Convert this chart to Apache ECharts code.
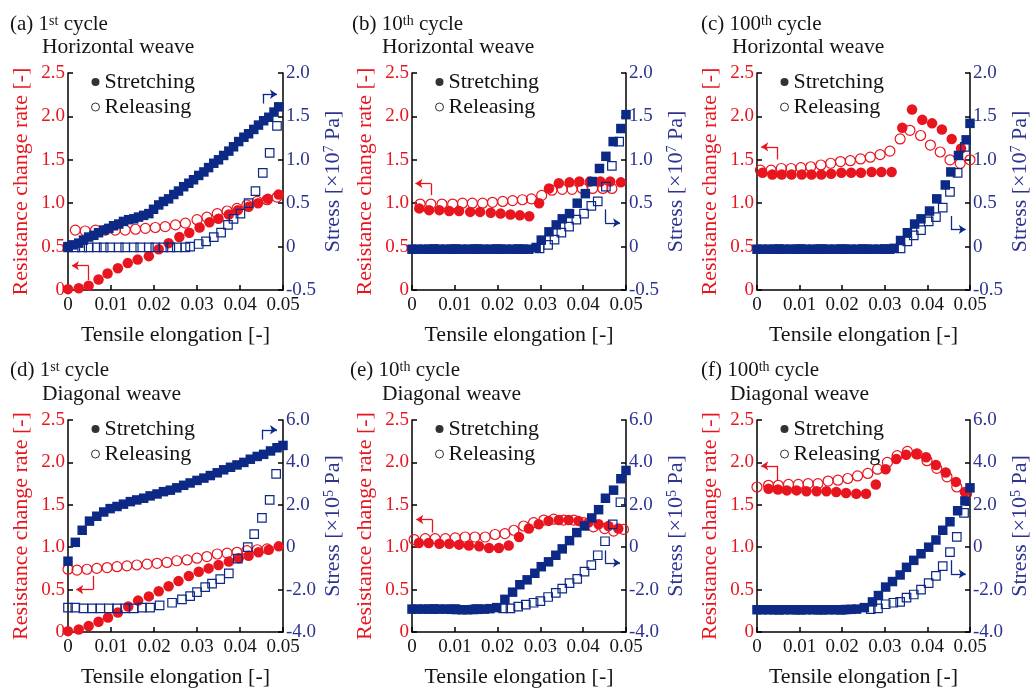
<!DOCTYPE html>
<html>
<head>
<meta charset="utf-8">
<script src="https://cdn.jsdelivr.net/npm/echarts@6/dist/echarts.min.js"></script>
<style>
  html, body { margin: 0; padding: 0; background: #fff; }
  #chart { width: 1032px; height: 689px; }
</style>
</head>
<body>
<div id="chart"></div>
<script>
// ---- data: [tensile elongation, value] ----
// (a) 1st cycle, horizontal weave
const aResStretch = [[0,0.01],[0.0025,0.02],[0.0048,0.05],[0.0071,0.12],[0.0092,0.19],[0.0116,0.25],[0.0139,0.31],[0.0162,0.35],[0.0188,0.39],[0.0211,0.47],[0.0234,0.54],[0.0259,0.61],[0.0282,0.66],[0.0306,0.72],[0.0329,0.78],[0.035,0.82],[0.0374,0.87],[0.0395,0.92],[0.042,0.96],[0.0442,1.0],[0.0465,1.05],[0.049,1.1]];
const aResRelease = [[0.0017,0.69],[0.004,0.68],[0.0064,0.69],[0.0087,0.69],[0.011,0.69],[0.0133,0.69],[0.0157,0.7],[0.018,0.71],[0.0203,0.72],[0.0226,0.73],[0.025,0.75],[0.0273,0.77],[0.03,0.81],[0.0323,0.84],[0.0347,0.88],[0.037,0.91],[0.0393,0.94],[0.0416,0.98],[0.044,1.02],[0.0463,1.04],[0.0486,1.07]];
const aStressStretch = [[0,0],[0.0012,0.02],[0.0025,0.04],[0.0036,0.075],[0.0048,0.11],[0.006,0.13],[0.0071,0.16],[0.0083,0.19],[0.0095,0.21],[0.0106,0.24],[0.0118,0.26],[0.0129,0.29],[0.0141,0.31],[0.0153,0.32],[0.0164,0.34],[0.0176,0.36],[0.0188,0.38],[0.0199,0.43],[0.0211,0.48],[0.0222,0.52],[0.0234,0.55],[0.0246,0.6],[0.0257,0.64],[0.0269,0.69],[0.0281,0.73],[0.0292,0.77],[0.0304,0.82],[0.0316,0.86],[0.0327,0.91],[0.0339,0.96],[0.035,1.0],[0.0362,1.05],[0.0374,1.1],[0.0385,1.15],[0.0397,1.21],[0.0409,1.26],[0.042,1.3],[0.0432,1.35],[0.0443,1.4],[0.0455,1.45],[0.0467,1.49],[0.0479,1.55],[0.049,1.61]];
const aStressRelease = [[0,-0.01],[0.0017,-0.01],[0.0033,-0.01],[0.0048,-0.01],[0.0067,-0.01],[0.0083,-0.01],[0.0098,-0.01],[0.0118,-0.01],[0.0133,-0.01],[0.0153,-0.01],[0.0168,-0.01],[0.0188,-0.01],[0.0203,-0.01],[0.0222,-0.01],[0.0238,-0.01],[0.0253,-0.01],[0.0273,-0.01],[0.0284,0],[0.0304,0.03],[0.0321,0.06],[0.0339,0.11],[0.0356,0.16],[0.0372,0.25],[0.0385,0.32],[0.0401,0.38],[0.042,0.5],[0.0436,0.64],[0.0453,0.85],[0.0469,1.08],[0.0486,1.39]];

// (b) 10th cycle, horizontal weave
const bResStretch = [[0.0017,0.94],[0.004,0.92],[0.0064,0.92],[0.0087,0.91],[0.011,0.91],[0.0136,0.9],[0.0159,0.9],[0.0184,0.89],[0.0207,0.88],[0.023,0.87],[0.0252,0.86],[0.0274,0.85],[0.0297,1.0],[0.032,1.17],[0.0343,1.23],[0.0368,1.24],[0.0391,1.25],[0.0416,1.25],[0.044,1.25],[0.0463,1.25],[0.0488,1.24]];
const bResRelease = [[0.0019,0.99],[0.0044,0.99],[0.007,0.99],[0.0095,0.99],[0.0118,1.0],[0.0141,1.0],[0.0165,1.0],[0.0188,1.01],[0.0212,1.02],[0.0235,1.03],[0.0258,1.04],[0.0279,1.05],[0.0303,1.09],[0.0327,1.15],[0.0351,1.16],[0.0374,1.16],[0.0398,1.17],[0.0422,1.17],[0.0446,1.17],[0.0467,1.17]];
const bStressStretch = [[0,-0.03],[0.0013,-0.03],[0.0026,-0.03],[0.0039,-0.03],[0.0052,-0.03],[0.0065,-0.03],[0.0078,-0.03],[0.0091,-0.03],[0.0104,-0.03],[0.0117,-0.03],[0.013,-0.03],[0.0143,-0.03],[0.0156,-0.03],[0.0169,-0.03],[0.0182,-0.03],[0.0195,-0.03],[0.0208,-0.03],[0.0221,-0.03],[0.0234,-0.03],[0.0247,-0.03],[0.026,-0.03],[0.0273,-0.03],[0.029,-0.01],[0.0302,0.075],[0.032,0.17],[0.0337,0.25],[0.0351,0.32],[0.0368,0.38],[0.0386,0.5],[0.0405,0.61],[0.0421,0.75],[0.0438,0.9],[0.0453,1.04],[0.047,1.21],[0.0488,1.36],[0.05,1.52]];
const bStressRelease = [[0.005,-0.03],[0.01,-0.03],[0.015,-0.03],[0.02,-0.03],[0.025,-0.03],[0.0298,-0.02],[0.0318,0.02],[0.0333,0.08],[0.0349,0.16],[0.0367,0.23],[0.0384,0.31],[0.0402,0.38],[0.0419,0.47],[0.0434,0.52],[0.0453,0.69],[0.0467,0.93],[0.0484,1.21]];

// (c) 100th cycle, horizontal weave
const cResStretch = [[0.0013,1.35],[0.0036,1.33],[0.0058,1.33],[0.0081,1.33],[0.0105,1.33],[0.0128,1.33],[0.0151,1.33],[0.0174,1.34],[0.0198,1.35],[0.0221,1.35],[0.0244,1.35],[0.0269,1.36],[0.0292,1.36],[0.0316,1.36],[0.0341,1.87],[0.0364,2.08],[0.0388,1.96],[0.0411,1.92],[0.0434,1.85],[0.0457,1.74],[0.0479,1.63]];
const cResRelease = [[0.0008,1.38],[0.0033,1.38],[0.0057,1.4],[0.008,1.4],[0.0103,1.41],[0.0126,1.42],[0.015,1.44],[0.0173,1.46],[0.0196,1.48],[0.0219,1.49],[0.0243,1.51],[0.0266,1.53],[0.0289,1.56],[0.0312,1.6],[0.0336,1.74],[0.0359,1.84],[0.0384,1.78],[0.0407,1.67],[0.043,1.59],[0.0453,1.5],[0.0477,1.46],[0.05,1.5]];
const cStressStretch = [[0,-0.03],[0.0013,-0.03],[0.0026,-0.03],[0.0039,-0.03],[0.0052,-0.03],[0.0065,-0.03],[0.0078,-0.03],[0.0091,-0.03],[0.0104,-0.03],[0.0117,-0.03],[0.013,-0.03],[0.0143,-0.03],[0.0156,-0.03],[0.0169,-0.03],[0.0182,-0.03],[0.0195,-0.03],[0.0208,-0.03],[0.0221,-0.03],[0.0234,-0.03],[0.0247,-0.03],[0.026,-0.03],[0.0273,-0.03],[0.0286,-0.03],[0.0299,-0.03],[0.0312,-0.03],[0.0322,-0.02],[0.0337,0.07],[0.0353,0.16],[0.037,0.26],[0.0385,0.32],[0.0405,0.41],[0.0422,0.55],[0.0442,0.71],[0.0455,0.86],[0.0473,1.05],[0.0491,1.23],[0.05,1.42]];
const cStressRelease = [[0.005,-0.03],[0.01,-0.03],[0.015,-0.03],[0.02,-0.03],[0.025,-0.03],[0.03,-0.03],[0.0337,-0.02],[0.0353,0.06],[0.0368,0.13],[0.0385,0.19],[0.0403,0.29],[0.042,0.34],[0.0436,0.45],[0.0453,0.63],[0.0471,0.85],[0.0488,1.15]];

// (d) 1st cycle, diagonal weave
const dResStretch = [[0,0.01],[0.0025,0.03],[0.0048,0.07],[0.0071,0.12],[0.0093,0.17],[0.0116,0.23],[0.014,0.3],[0.0163,0.37],[0.0188,0.42],[0.0211,0.48],[0.0234,0.54],[0.0257,0.6],[0.0281,0.66],[0.0304,0.71],[0.0327,0.75],[0.035,0.79],[0.0374,0.83],[0.0397,0.87],[0.042,0.9],[0.0443,0.94],[0.0467,0.97],[0.049,1.01]];
const dResRelease = [[0,0.74],[0.0021,0.73],[0.0044,0.74],[0.0067,0.75],[0.0091,0.76],[0.0114,0.77],[0.0137,0.78],[0.016,0.79],[0.0184,0.8],[0.0207,0.81],[0.023,0.82],[0.0253,0.84],[0.0277,0.85],[0.03,0.87],[0.0323,0.89],[0.0347,0.92],[0.037,0.93],[0.0393,0.94],[0.0416,0.96],[0.044,0.97],[0.0463,0.98]];
const dStressStretch = [[0,-0.66],[0.0017,0.23],[0.0033,0.8],[0.005,1.23],[0.0067,1.46],[0.0083,1.66],[0.0098,1.82],[0.0114,1.92],[0.0129,2.03],[0.0145,2.15],[0.016,2.23],[0.0176,2.31],[0.0191,2.42],[0.0207,2.51],[0.0222,2.62],[0.0238,2.69],[0.0253,2.8],[0.0269,2.92],[0.0284,3.03],[0.03,3.15],[0.0316,3.26],[0.0331,3.38],[0.0347,3.51],[0.0362,3.65],[0.0378,3.77],[0.0393,3.88],[0.0409,4.0],[0.0424,4.15],[0.044,4.28],[0.0455,4.38],[0.0471,4.54],[0.0486,4.69],[0.05,4.8]];
const dStressRelease = [[0,-2.85],[0.0017,-2.85],[0.0036,-2.89],[0.0056,-2.89],[0.0075,-2.89],[0.0095,-2.89],[0.0114,-2.89],[0.0133,-2.89],[0.0153,-2.89],[0.0172,-2.85],[0.0191,-2.85],[0.0213,-2.74],[0.0242,-2.62],[0.0265,-2.46],[0.0284,-2.31],[0.03,-2.12],[0.0319,-1.88],[0.0335,-1.72],[0.0354,-1.51],[0.0374,-1.23],[0.0395,-0.54],[0.0418,0],[0.0433,0.62],[0.0451,1.38],[0.0469,2.23],[0.0484,3.46]];

// (e) 10th cycle, diagonal weave
const eResStretch = [[0.0016,1.05],[0.0039,1.05],[0.0064,1.04],[0.0087,1.04],[0.011,1.03],[0.0133,1.02],[0.0157,1.01],[0.018,0.99],[0.0203,0.99],[0.0226,1.02],[0.025,1.12],[0.0273,1.22],[0.0296,1.27],[0.0319,1.31],[0.0343,1.32],[0.0366,1.32],[0.0389,1.31],[0.0412,1.29],[0.0436,1.27],[0.0459,1.25],[0.0482,1.22]];
const eResRelease = [[0.0005,1.09],[0.0031,1.1],[0.0054,1.1],[0.0078,1.1],[0.0101,1.11],[0.0124,1.12],[0.0147,1.12],[0.0171,1.12],[0.0194,1.15],[0.0217,1.16],[0.0238,1.2],[0.0261,1.25],[0.0284,1.29],[0.0308,1.32],[0.0331,1.33],[0.0354,1.32],[0.0378,1.32],[0.0401,1.29],[0.0424,1.24],[0.045,1.22],[0.0471,1.19],[0.0494,1.21]];
const eStressStretch = [[0,-2.92],[0.0013,-2.92],[0.0026,-2.92],[0.0039,-2.92],[0.0052,-2.92],[0.0065,-2.92],[0.0078,-2.92],[0.0091,-2.93],[0.0104,-2.94],[0.0117,-2.95],[0.013,-2.95],[0.0143,-2.94],[0.0156,-2.93],[0.0169,-2.92],[0.0182,-2.9],[0.0198,-2.85],[0.0217,-2.46],[0.0235,-2.12],[0.0252,-1.77],[0.0269,-1.54],[0.0287,-1.23],[0.0302,-0.92],[0.0319,-0.69],[0.0336,-0.38],[0.0351,-0.08],[0.0368,0.31],[0.0385,0.69],[0.0403,1.0],[0.042,1.38],[0.0436,1.77],[0.0452,2.31],[0.0471,2.69],[0.0488,3.23],[0.05,3.62]];
const eStressRelease = [[0.005,-2.92],[0.01,-2.92],[0.015,-2.92],[0.0213,-2.89],[0.023,-2.89],[0.0248,-2.8],[0.0266,-2.71],[0.0284,-2.62],[0.03,-2.54],[0.0318,-2.35],[0.0336,-2.15],[0.0351,-1.95],[0.0368,-1.69],[0.0386,-1.49],[0.0403,-1.15],[0.0419,-0.85],[0.0434,-0.38],[0.0451,0.28],[0.0469,1.08],[0.0487,2.12]];

// (f) 100th cycle, diagonal weave
const fResStretch = [[0.0027,1.69],[0.0049,1.68],[0.007,1.67],[0.0093,1.67],[0.0116,1.66],[0.014,1.66],[0.0163,1.66],[0.0186,1.65],[0.0209,1.64],[0.0233,1.63],[0.0256,1.63],[0.0279,1.74],[0.0302,1.92],[0.0327,2.04],[0.035,2.09],[0.0374,2.1],[0.0397,2.06],[0.042,1.97],[0.0443,1.88],[0.0467,1.77],[0.0488,1.65]];
const fResRelease = [[0,1.71],[0.0027,1.73],[0.005,1.73],[0.0074,1.74],[0.0097,1.74],[0.012,1.75],[0.0143,1.75],[0.0167,1.78],[0.019,1.79],[0.0213,1.81],[0.0236,1.84],[0.026,1.87],[0.0283,1.92],[0.0306,2.0],[0.0329,2.08],[0.0353,2.13],[0.0376,2.1],[0.0399,2.02],[0.0422,1.93],[0.0446,1.83],[0.0469,1.71],[0.0492,1.63]];
const fStressStretch = [[0,-2.95],[0.0013,-2.95],[0.0026,-2.95],[0.0039,-2.95],[0.0052,-2.95],[0.0065,-2.95],[0.0078,-2.95],[0.0091,-2.95],[0.0104,-2.95],[0.0117,-2.95],[0.013,-2.95],[0.0143,-2.95],[0.0156,-2.95],[0.0169,-2.95],[0.0182,-2.95],[0.0195,-2.95],[0.0208,-2.94],[0.0221,-2.93],[0.0234,-2.92],[0.0252,-2.85],[0.0271,-2.58],[0.0285,-2.28],[0.0302,-1.88],[0.0318,-1.62],[0.0336,-1.31],[0.0351,-0.95],[0.0368,-0.62],[0.0385,-0.31],[0.0403,0],[0.042,0.34],[0.0436,0.8],[0.0453,1.2],[0.0471,1.72],[0.0488,2.18],[0.05,2.8]];
const fStressRelease = [[0.005,-2.95],[0.01,-2.95],[0.015,-2.95],[0.02,-2.95],[0.0267,-2.92],[0.0284,-2.89],[0.0302,-2.69],[0.032,-2.62],[0.0336,-2.58],[0.0351,-2.38],[0.0368,-2.23],[0.0385,-2.0],[0.0403,-1.69],[0.042,-1.35],[0.0436,-0.89],[0.0453,-0.23],[0.0469,0.49],[0.0486,1.62]];

// axis-pointer arrows: stem start, corner, tip (data coordinates)
const resArrows = [
  [[0.0048,0.115],[0.0048,0.28],[0.0009,0.28]],
  [[0.0044,1.093],[0.0044,1.228],[0.0008,1.228]],
  [[0.0047,1.504],[0.0047,1.649],[0.001,1.649]],
  [[0.0058,0.662],[0.0058,0.5],[0.0019,0.5]],
  [[0.0047,1.173],[0.0047,1.327],[0.001,1.327]],
  [[0.0047,1.788],[0.0047,1.96],[0.001,1.96]]
];
const stressArrows = [
  [[0.0453,1.648],[0.0453,1.755],[0.0486,1.755]],
  [[0.0451,0.429],[0.0451,0.274],[0.0486,0.274]],
  [[0.0455,0.352],[0.0455,0.198],[0.049,0.198]],
  [[0.0451,5.077],[0.0451,5.54],[0.0486,5.54]],
  [[0.0451,-0.151],[0.0451,-0.737],[0.0486,-0.737]],
  [[0.0455,-0.613],[0.0455,-1.259],[0.049,-1.259]]
];

const titleLines = ['(a) 1{s|st} cycle', '(b) 10{s|th} cycle', '(c) 100{s|th} cycle',
                    '(d) 1{s|st} cycle', '(e) 10{s|th} cycle', '(f) 100{s|th} cycle'];
const weaveLines = ['Horizontal weave', 'Horizontal weave', 'Horizontal weave',
                    'Diagonal weave', 'Diagonal weave', 'Diagonal weave'];
const legendNames = ['Stretching', 'Releasing'];
const xTicks = [0, 0.05, 0.01];            // min, max, step
const resTicks = [0, 2.5, 0.5];
const stressTicksTop = [-0.5, 2.0, 0.5];   // x10^7 Pa
const stressTicksBottom = [-4, 6, 2];      // x10^5 Pa

const panels = [
  { res: [aResStretch, aResRelease], stress: [aStressStretch, aStressRelease], st: stressTicksTop, exp: '7' },
  { res: [bResStretch, bResRelease], stress: [bStressStretch, bStressRelease], st: stressTicksTop, exp: '7' },
  { res: [cResStretch, cResRelease], stress: [cStressStretch, cStressRelease], st: stressTicksTop, exp: '7' },
  { res: [dResStretch, dResRelease], stress: [dStressStretch, dStressRelease], st: stressTicksBottom, exp: '5' },
  { res: [eResStretch, eResRelease], stress: [eStressStretch, eStressRelease], st: stressTicksBottom, exp: '5' },
  { res: [fResStretch, fResRelease], stress: [fStressStretch, fStressRelease], st: stressTicksBottom, exp: '5' }
];

// ---- layout / style ----
const FONT = 'Liberation Serif';
const RED = '#e8141e';
const NAVY = '#0c2a85';
const BLUE_TXT = '#2c3391';
const INK = '#141414';

const grids = [
  { left: 68,  top: 73,  width: 215, height: 217 },
  { left: 412, top: 73,  width: 214, height: 217 },
  { left: 757, top: 73,  width: 214, height: 217 },
  { left: 68,  top: 420, width: 215, height: 217 },
  { left: 412, top: 420, width: 214, height: 217 },
  { left: 757, top: 420, width: 214, height: 217 }
];
const titlePos = [
  [10, 14, 42, 36], [352, 14, 382, 36], [701, 14, 732, 36],
  [10, 360, 42, 383], [350, 360, 382, 383], [701, 360, 730, 383]
];

const yFmt = v => (v === 0 ? '0' : v.toFixed(1));
const xFmt = v => (v === 0 ? '0' : v.toFixed(2));
const supRich = { s: { fontSize: 14, fontFamily: FONT, verticalAlign: 'top', lineHeight: 15 } };

const line = { color: '#000', width: 1.5 };
const tick = { show: true, inside: true, length: 5, lineStyle: line };

const xAxes = [], yAxes = [], series = [], titles = [], legends = [];

function arrowLine(pts, color) {
  return {
    silent: true, animation: false,
    symbol: ['none', 'none'], symbolSize: 7,
    label: { show: false },
    emphasis: { disabled: true },
    lineStyle: { color: color, width: 1.3, type: 'solid', opacity: 1 },
    data: [
      [{ coord: pts[0] }, { coord: pts[1] }],
      [{ coord: pts[1] }, { coord: pts[2], symbol: 'arrow' }]
    ]
  };
}

panels.forEach((p, i) => {
  const g = grids[i];
  xAxes.push({
    gridIndex: i, type: 'value', min: xTicks[0], max: xTicks[1], interval: xTicks[2],
    axisLine: { lineStyle: line }, axisTick: tick, splitLine: { show: false },
    axisLabel: { color: INK, fontSize: 19, fontFamily: FONT, margin: 6, formatter: xFmt },
    name: 'Tensile elongation [-]', nameLocation: 'middle', nameGap: 34,
    nameTextStyle: { color: INK, fontSize: 22, fontFamily: FONT }
  });
  yAxes.push({
    gridIndex: i, type: 'value', position: 'left',
    min: resTicks[0], max: resTicks[1], interval: resTicks[2],
    axisLine: { show: true, lineStyle: line }, axisTick: tick, splitLine: { show: false },
    axisLabel: { color: RED, fontSize: 19, fontFamily: FONT, margin: 3, formatter: yFmt },
    name: 'Resistance change rate [-]', nameLocation: 'middle', nameRotate: 90, nameGap: 36,
    nameTextStyle: { color: RED, fontSize: 22, fontFamily: FONT }
  });
  yAxes.push({
    gridIndex: i, type: 'value', position: 'right',
    min: p.st[0], max: p.st[1], interval: p.st[2],
    axisLine: { show: true, lineStyle: line }, axisTick: tick, splitLine: { show: false },
    axisLabel: { color: BLUE_TXT, fontSize: 19, fontFamily: FONT, margin: 3, formatter: yFmt },
    name: 'Stress [×10{s|' + p.exp + '} Pa]', nameLocation: 'middle', nameRotate: 90, nameGap: 39,
    nameTextStyle: { color: BLUE_TXT, fontSize: 22, fontFamily: FONT, rich: supRich }
  });

  const common = { type: 'scatter', xAxisIndex: i, clip: false, silent: true, animation: false };
  series.push(Object.assign({}, common, {
    name: 'res-release-' + i, yAxisIndex: 2 * i, data: p.res[1], symbol: 'circle', symbolSize: 10,
    itemStyle: { color: 'rgba(255,255,255,0)', borderColor: RED, borderWidth: 1.2, opacity: 1 }
  }));
  series.push(Object.assign({}, common, {
    name: 'res-stretch-' + i, yAxisIndex: 2 * i, data: p.res[0], symbol: 'circle', symbolSize: 10.5,
    itemStyle: { color: RED, opacity: 1 }, markLine: arrowLine(resArrows[i], RED)
  }));
  series.push(Object.assign({}, common, {
    name: 'stress-release-' + i, yAxisIndex: 2 * i + 1, data: p.stress[1], symbol: 'rect', symbolSize: 8.5,
    itemStyle: { color: 'rgba(255,255,255,0)', borderColor: NAVY, borderWidth: 1.2, opacity: 1 }
  }));
  series.push(Object.assign({}, common, {
    name: 'stress-stretch-' + i, yAxisIndex: 2 * i + 1, data: p.stress[0], symbol: 'rect', symbolSize: 9.5,
    itemStyle: { color: NAVY, opacity: 1 }, markLine: arrowLine(stressArrows[i], NAVY)
  }));

  const tp = titlePos[i];
  titles.push({
    text: titleLines[i], left: tp[0], top: tp[1], padding: 0,
    textStyle: { fontFamily: FONT, fontSize: 21, fontWeight: 'normal', color: INK, rich: supRich }
  });
  titles.push({
    text: weaveLines[i], left: tp[2], top: tp[3], padding: 0,
    textStyle: { fontFamily: FONT, fontSize: 21.5, fontWeight: 'normal', color: INK }
  });

  legends.push({
    left: g.left + 23, top: g.top - 2, orient: 'vertical', padding: 0,
    itemWidth: 8, itemHeight: 8, itemGap: 3, selectedMode: false,
    textStyle: { fontFamily: FONT, fontSize: 22, color: INK },
    data: [
      { name: legendNames[0], icon: 'circle', itemStyle: { color: '#000' } },
      { name: legendNames[1], icon: 'circle', itemStyle: { color: '#fff', borderColor: '#000', borderWidth: 1 } }
    ]
  });
});

// empty series that only feed the legends
series.push({ type: 'scatter', name: legendNames[0], xAxisIndex: 0, yAxisIndex: 0, data: [], itemStyle: { color: '#000' } });
series.push({ type: 'scatter', name: legendNames[1], xAxisIndex: 0, yAxisIndex: 0, data: [],
  itemStyle: { color: '#fff', borderColor: '#000', borderWidth: 1 } });

const chart = echarts.init(document.getElementById('chart'), null, { renderer: 'canvas' });
chart.setOption({
  backgroundColor: '#fff',
  animation: false,
  title: titles,
  legend: legends,
  grid: grids,
  xAxis: xAxes,
  yAxis: yAxes,
  series: series
});
</script>
</body>
</html>
